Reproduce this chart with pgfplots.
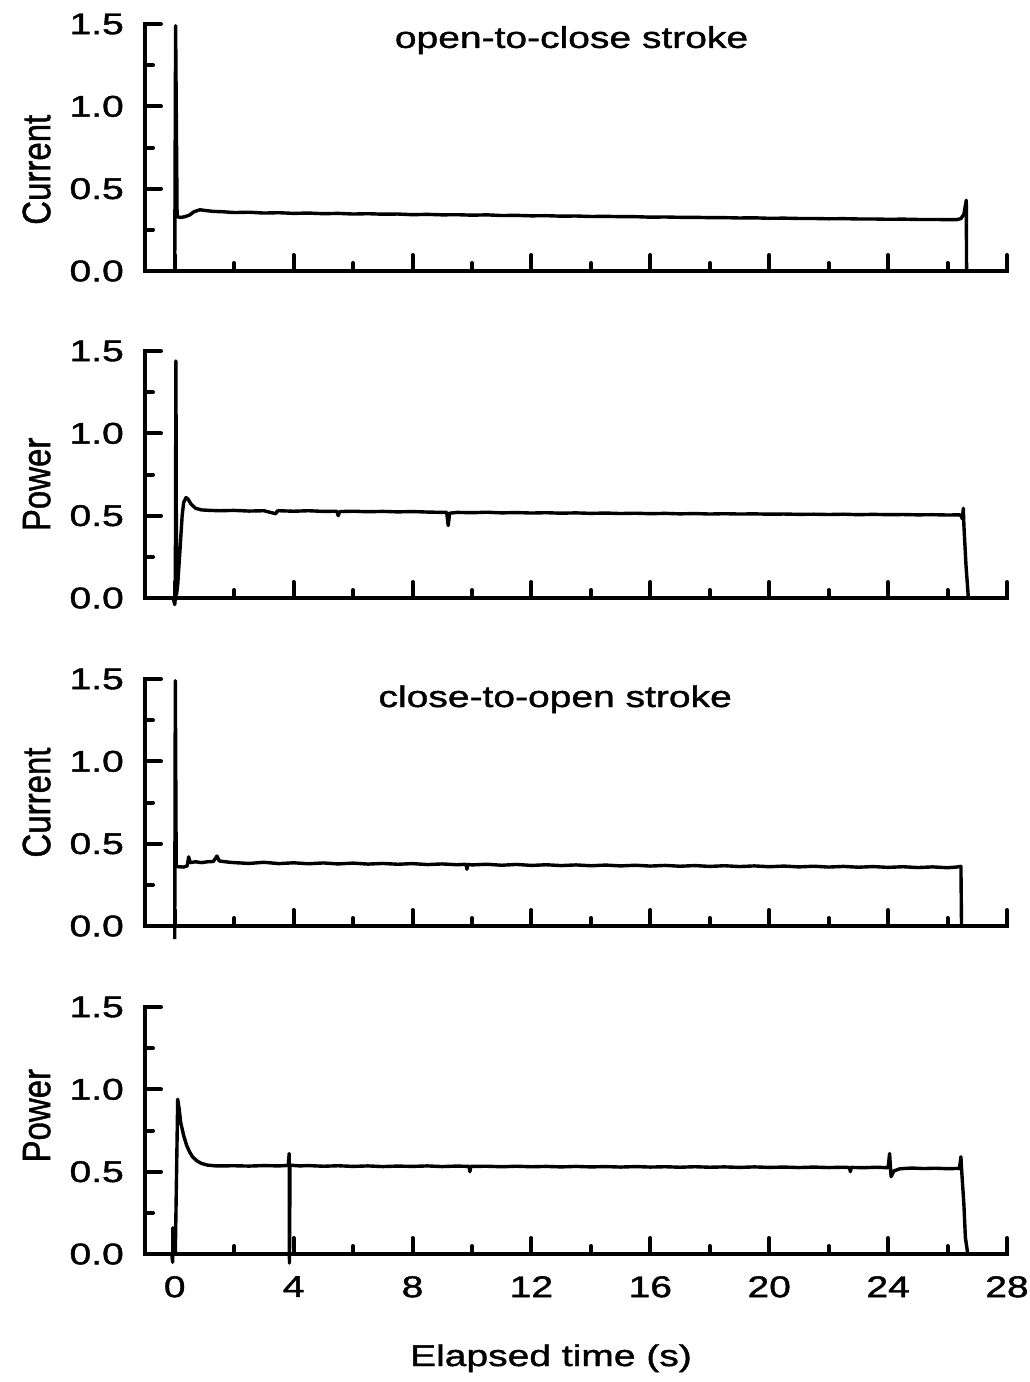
\documentclass[border=0pt]{standalone}
\usepackage{fontspec}
\setmainfont{Liberation Sans}[FakeBold=1.2]
\newfontfamily\widefont[FakeStretch=1.3, FakeBold=1.4]{Liberation Sans}
\usepackage{pgfplots}
\pgfplotsset{compat=1.18}
\pgfplotsset{
  panel/.style={
    scale only axis, width=862pt, height=247pt,
    xmin=-1, xmax=28, ymin=0, ymax=1.5,
    axis x line=bottom, axis y line=left,
    axis line style={-, line width=4pt, line cap=rect, black},
    xtick={0,4,...,28}, minor xtick={2,6,...,26},
    ytick={0,0.5,1,1.5}, minor ytick={0.25,0.75,1.25},
    tick align=inside,
    major tick length=16pt, minor tick length=8pt,
    tick style={line width=4pt, black, line cap=round},
    /pgf/number format/assume math mode=true,
    tick label style={font=\widefont\fontsize{30}{36}\selectfont},
    yticklabel style={/pgf/number format/fixed, /pgf/number format/fixed zerofill, /pgf/number format/precision=1, inner sep=0pt, xshift=-21pt},
    xticklabel style={inner sep=0pt, yshift=-22pt},
    clip=false,
    ylabel style={font=\fontsize{33}{40}\selectfont, anchor=base},
  },
  notx/.style={xticklabels={,,}},
  trace/.style={black, line width=3.4pt, line join=round, mark=none},
}
\newcommand{\ylab}[1]{\scalebox{1}[1.2]{#1}}
\begin{document}
\begin{tikzpicture}
\path[use as bounding box] (0pt,0pt) rectangle (1030pt,-1382pt);

% Panel 1
\begin{axis}[panel, notx, at={(145pt,-271pt)}, anchor=south west,
  ylabel={\ylab{Current}},
  ylabel style={at={(axis description cs:-0.110,0.41)}}]
\addplot[trace] table {
0.0 0
0.03 1.49
0.08 0.33
0.2 0.325
0.35 0.33
0.5 0.34
0.65 0.36
0.85 0.372
1.0 0.368
1.3 0.362
1.6 0.36
2.0 0.355
2.5 0.357
3.0 0.352
3.5 0.354
4.0 0.35
4.5 0.352
5.0 0.348
5.5 0.35
6.0 0.346
6.5 0.348
7.0 0.345
7.5 0.346
8.0 0.342
8.5 0.344
9.0 0.341
9.5 0.342
10.0 0.339
10.5 0.341
11 0.337
11.5 0.338
12 0.335
12.5 0.336
13 0.333
13.5 0.334
14 0.331
14.5 0.332
15 0.33
15.5 0.33
16 0.327
16.5 0.328
17 0.326
17.5 0.326
18 0.324
18.5 0.324
19 0.322
19.5 0.323
20 0.32
20.5 0.321
21 0.319
21.5 0.319
22 0.317
22.5 0.318
23 0.316
23.5 0.316
24 0.314
24.5 0.315
25 0.313
25.5 0.313
26 0.312
26.3 0.312
26.45 0.318
26.55 0.345
26.63 0.43
26.64 0
};
\node[anchor=base, font=\widefont\fontsize{30}{36}\selectfont] at (axis cs:13.35,1.355) {open-to-close stroke};
\end{axis}

% Panel 2
\begin{axis}[panel, notx, at={(145pt,-598pt)}, anchor=south west,
  ylabel={\ylab{Power}},
  ylabel style={at={(axis description cs:-0.110,0.46)}}]
\addplot[trace] table {
-0.05 0
0.0 -0.04
0.02 0.0
0.04 1.44
0.06 0.02
0.1 0.08
0.18 0.3
0.25 0.5
0.3 0.58
0.38 0.61
0.45 0.6
0.55 0.57
0.7 0.545
0.9 0.535
1.2 0.532
1.5 0.53
2.0 0.532
2.5 0.528
3.0 0.53
3.4 0.512
3.45 0.528
3.5 0.53
4.0 0.527
4.5 0.53
5.0 0.526
5.45 0.527
5.5 0.5
5.55 0.525
6.0 0.527
6.5 0.524
7.0 0.526
7.5 0.523
8.0 0.525
8.5 0.522
9.0 0.52
9.15 0.52
9.2 0.44
9.25 0.515
9.5 0.52
10 0.518
10.5 0.521
11 0.517
11.5 0.519
12 0.516
12.5 0.518
13 0.515
13.5 0.517
14 0.514
14.5 0.516
15 0.513
15.5 0.515
16 0.512
16.5 0.514
17 0.511
17.5 0.513
18 0.51
18.5 0.512
19 0.51
19.5 0.511
20 0.509
20.5 0.51
21 0.508
21.5 0.509
22 0.507
22.5 0.509
23 0.506
23.5 0.508
24 0.506
24.5 0.507
25 0.505
25.5 0.506
26 0.504
26.4 0.505
26.45 0.5
26.5 0.48
26.53 0.545
26.55 0.44
26.62 0.2
26.7 0.0
};
\end{axis}

% Panel 3
\begin{axis}[panel, notx, at={(145pt,-926pt)}, anchor=south west,
  ylabel={\ylab{Current}},
  ylabel style={at={(axis description cs:-0.110,0.50)}}]
\addplot[trace] table {
0.0 -0.08
0.02 1.49
0.05 0.37
0.1 0.36
0.3 0.358
0.42 0.365
0.47 0.42
0.52 0.385
0.7 0.39
0.9 0.385
1.1 0.39
1.3 0.392
1.42 0.425
1.5 0.395
1.8 0.388
2 0.385
2.5 0.38
3 0.387
3.5 0.379
4 0.384
4.5 0.378
5 0.383
5.5 0.377
6 0.382
6.5 0.376
7 0.38
7.5 0.375
8 0.379
8.5 0.373
9 0.377
9.5 0.372
9.8 0.375
9.83 0.345
9.86 0.374
10 0.371
10.5 0.375
11 0.369
11.5 0.374
12 0.368
12.5 0.372
13 0.367
13.5 0.371
14 0.366
14.5 0.37
15 0.365
15.5 0.369
16 0.364
16.5 0.368
17 0.363
17.5 0.367
18 0.362
18.5 0.366
19 0.361
19.5 0.365
20 0.36
20.5 0.364
21 0.359
21.5 0.363
22 0.358
22.5 0.362
23 0.357
23.5 0.361
24 0.356
24.5 0.36
25 0.355
25.5 0.359
26 0.354
26.3 0.358
26.45 0.362
26.47 0
};
\node[anchor=base, font=\widefont\fontsize{30}{36}\selectfont] at (axis cs:12.8,1.33) {close-to-open stroke};
\end{axis}

% Panel 4
\begin{axis}[panel, at={(145pt,-1254pt)}, anchor=south west,
  ylabel={\ylab{Power}},
  ylabel style={at={(axis description cs:-0.110,0.56)}},
  xlabel={Elapsed time (s)},
  xlabel style={at={(axis description cs:0.471,0)}, anchor=base, yshift=-112pt, font=\widefont\fontsize{30}{36}\selectfont}]
\addplot[trace] table {
-0.1 0
-0.07 -0.05
-0.06 0.16
-0.04 0.0
0.02 0.0
0.1 0.94
0.15 0.88
0.2 0.8
0.3 0.72
0.4 0.66
0.5 0.62
0.6 0.59
0.75 0.565
0.9 0.55
1.1 0.54
1.4 0.535
2.0 0.536
2.5 0.534
3.0 0.537
3.5 0.535
3.82 0.538
3.85 0.61
3.86 -0.055
3.88 0.54
4.2 0.535
4.5 0.537
5 0.533
5.5 0.536
6 0.532
6.5 0.535
7 0.531
7.5 0.534
8 0.532
8.5 0.535
9 0.531
9.5 0.534
9.9 0.532
9.93 0.5
9.96 0.532
10.5 0.533
11 0.53
11.5 0.533
12 0.53
12.5 0.532
13 0.529
13.5 0.532
14 0.529
14.5 0.531
15 0.528
15.5 0.531
16 0.528
16.5 0.53
17 0.527
17.5 0.53
18 0.527
18.5 0.529
19 0.526
19.5 0.529
20 0.526
20.5 0.528
21 0.525
21.5 0.528
22 0.525
22.5 0.527
22.7 0.525
22.73 0.5
22.76 0.526
23.2 0.524
23.6 0.527
24.0 0.524
24.05 0.61
24.1 0.47
24.2 0.505
24.4 0.518
24.8 0.522
25.2 0.519
25.6 0.521
26 0.518
26.4 0.52
26.45 0.59
26.47 0.52
26.55 0.3
26.6 0.1
26.68 0
};
\end{axis}
\end{tikzpicture}
\end{document}
